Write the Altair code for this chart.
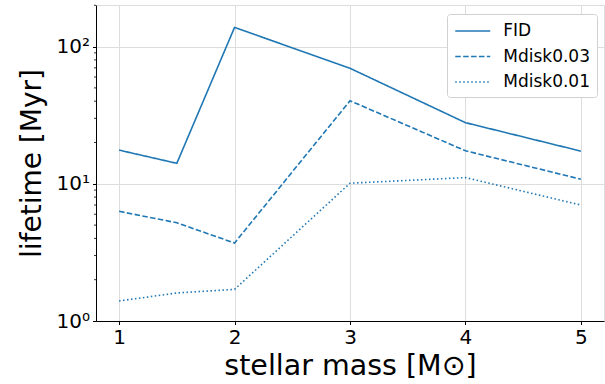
import altair as alt
import pandas as pd

# ---- data ----
mass = [1, 1.5, 2, 3, 4, 5]
fid = [17.6, 14.1, 138, 69.5, 27.9, 17.3]
mdisk003 = [6.3, 5.2, 3.7, 40.3, 17.4, 10.8]
mdisk001 = [1.4, 1.6, 1.7, 10.1, 11.1, 7.0]
series_names = ["FID", "Mdisk0.03", "Mdisk0.01"]
x_ticks = [1, 2, 3, 4, 5]
y_major = [1, 10, 100]
y_minor = [2, 3, 4, 5, 6, 7, 8, 9, 20, 30, 40, 50, 60, 70, 80, 90, 200]

rows = []
for name, vals in zip(series_names, [fid, mdisk003, mdisk001]):
    for m, v in zip(mass, vals):
        rows.append({"mass": m, "lifetime": v, "model": name})
df = pd.DataFrame(rows)
minor_df = pd.DataFrame({"v": y_minor})

FONT = "DejaVu Sans"
BLUE = "#1f77b4"

xscale = alt.Scale(domain=[0.8, 5.2], nice=False, zero=False)
yscale = alt.Scale(type="log", domain=[1, 201], nice=False)

y_axis = alt.Axis(values=y_major,
                  labelExpr="datum.value == 1 ? '10⁰' : datum.value == 10 ? '10¹' : '10²'",
                  title="lifetime [Myr]", labelFontSize=20, titleFontSize=28,
                  tickSize=3.5, labelPadding=3, titlePadding=10, grid=True,
                  gridColor="#dddddd", domainColor="#000000",
                  tickColor="#000000", labelColor="#000000",
                  titleColor="#000000", labelFont=FONT, titleFont=FONT,
                  titleFontWeight="normal")

lines = alt.Chart(df).mark_line(strokeWidth=1.6, color=BLUE).encode(
    x=alt.X("mass:Q", scale=xscale,
            axis=alt.Axis(values=x_ticks, format="d", title="stellar mass [M⊙]",
                          labelFontSize=20, titleFontSize=28.5, tickSize=3.5,
                          labelPadding=3, titlePadding=4, grid=True,
                          gridColor="#dddddd", domainColor="#000000",
                          tickColor="#000000", labelColor="#000000",
                          titleColor="#000000", labelFont=FONT, titleFont=FONT,
                          titleFontWeight="normal")),
    y=alt.Y("lifetime:Q", scale=yscale, axis=y_axis),
    strokeDash=alt.StrokeDash(
        "model:N",
        scale=alt.Scale(domain=series_names, range=[[1, 0], [5.5, 2.4], [1.5, 2.5]]),
        legend=alt.Legend(title=None, orient="none", legendX=351, legendY=9,
                          symbolType="M-2,0H2", symbolSize=306,
                          symbolOffset=8.75,
                          symbolStrokeWidth=1.6, symbolStrokeColor=BLUE,
                          labelFontSize=17, labelFont=FONT, labelColor="#000000",
                          labelOffset=20.5, rowPadding=7.5, padding=7,
                          fillColor="white", strokeColor="#d0d0d0",
                          cornerRadius=3)),
)

minor = alt.Chart(minor_df).mark_rule(color="#000000", strokeWidth=0.8).encode(
    y=alt.Y("v:Q", scale=yscale, axis=y_axis),
    x=alt.value(-2),
    x2=alt.value(0),
)

chart = alt.layer(lines, minor).properties(
    width=508, height=316,
    autosize=alt.AutoSizeParams(type="none"),
    padding={"left": 96, "top": 5, "right": 1, "bottom": 63},
).configure_view(stroke="#000000", strokeWidth=1).configure(background="white")

chart.save("out.html", embed_options={"renderer": "svg", "actions": False})
